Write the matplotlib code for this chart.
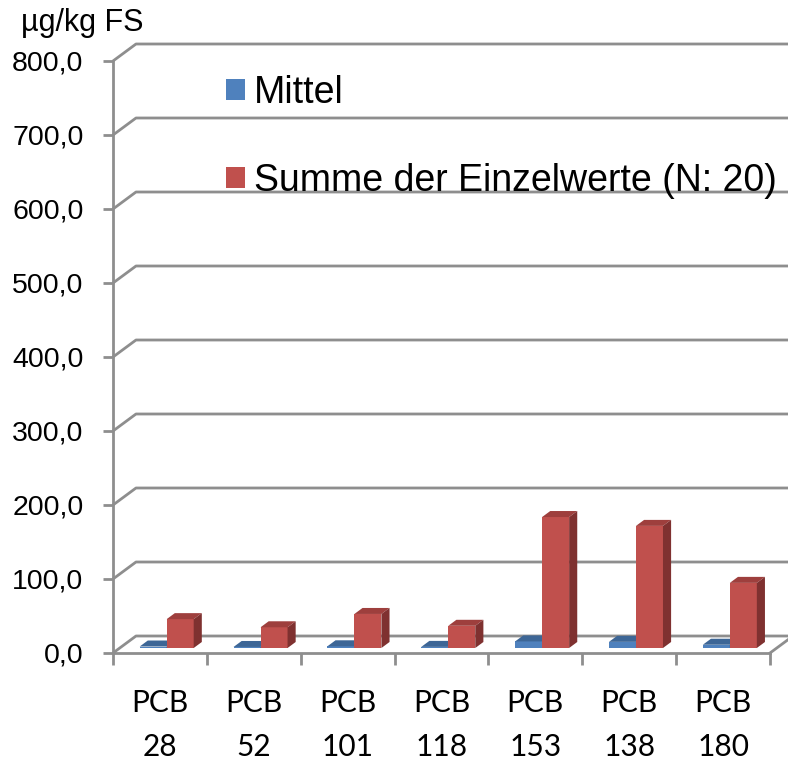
import matplotlib
matplotlib.use('Agg')
import matplotlib.pyplot as plt
from matplotlib.patches import Polygon, Patch

categories = ['PCB\n28', 'PCB\n52', 'PCB\n101', 'PCB\n118', 'PCB\n153', 'PCB\n138', 'PCB\n180']
mittel = [2.0, 1.4, 2.3, 1.5, 8.9, 8.3, 4.4]
summe = [39, 28, 46, 30, 177, 165, 88]
series_names = ['Mittel', 'Summe der Einzelwerte (N: 20)']
yticks = [0, 100, 200, 300, 400, 500, 600, 700, 800]
ytick_labels = ['0,0', '100,0', '200,0', '300,0', '400,0', '500,0', '600,0', '700,0', '800,0']
unit_label = 'µg/kg FS'

W, H = 788, 762
fig = plt.figure(figsize=(W / 100, H / 100), dpi=100)
X0, X1, Y0, Y1 = 113, 770, 653, 61
ax = fig.add_axes([X0 / W, (H - Y0) / H, (X1 - X0) / W, (Y0 - Y1) / H])
n = len(categories)
ax.set_xlim(0, n)
ax.set_ylim(0, 800)
ax.patch.set_visible(False)

px_x = n / (X1 - X0)
px_y = 800 / (Y0 - Y1)
DX, DY = 23 * px_x, 17 * px_y
d1, d2 = 5 / 17, 11 / 17

grid_c = '#8E8E8E'
lw = 2.0

# back wall gridlines + left wall diagonals
for v in yticks:
    ax.plot([0, DX, n + DX + 1], [v, v + DY, v + DY], color=grid_c, lw=lw,
            clip_on=False, zorder=1, solid_capstyle='butt')
# right floor edge
ax.plot([n, n + DX], [0, DY], color=grid_c, lw=lw, clip_on=False, zorder=1)

for s in ['top', 'right']:
    ax.spines[s].set_visible(False)
for s in ['left', 'bottom']:
    ax.spines[s].set_color(grid_c)
    ax.spines[s].set_linewidth(lw)
ax.spines['left'].set_bounds(0, 800)

ax.set_yticks(yticks, ytick_labels)
ax.tick_params(axis='y', length=7.2, width=lw, color=grid_c, pad=14,
               labelsize=20.5, labelfontfamily='Liberation Sans')
ax.set_xticks(range(n + 1), [''] * (n + 1))
ax.set_xticks([i + 0.5 for i in range(n)], categories, minor=True)
ax.tick_params(axis='x', which='major', length=8.6, width=lw, color=grid_c)
ax.tick_params(axis='x', which='minor', length=0, pad=26, labelsize=21.5)
for t in ax.get_xticklabels(minor=True):
    t.set_fontfamily('Lato')
    t.set_linespacing(1.7)

blue = ('#4F81BD', '#3D6696', '#2F5077')
red = ('#C0504D', '#9E3F3D', '#7F3130')
w = 27 * px_x

def bar3d(x_left, v, cols):
    fx0 = x_left + d1 * DX
    fy0 = d1 * DY
    bx = (d2 - d1) * DX
    by = (d2 - d1) * DY
    # front face
    ax.bar(fx0, v, width=w, bottom=fy0, align='edge', color=cols[0],
           clip_on=False, zorder=3, lw=0)
    # top face
    top = [(fx0, fy0 + v), (fx0 + w, fy0 + v), (fx0 + w + bx, fy0 + v + by), (fx0 + bx, fy0 + v + by)]
    ax.add_patch(Polygon(top, closed=True, fc=cols[1], ec='none', zorder=3, clip_on=False))
    # side face
    side = [(fx0 + w, fy0), (fx0 + w + bx, fy0 + by), (fx0 + w + bx, fy0 + v + by), (fx0 + w, fy0 + v)]
    ax.add_patch(Polygon(side, closed=True, fc=cols[2], ec='none', zorder=3, clip_on=False))

for i in range(n):
    c = i + 0.5
    bar3d(c - w, mittel[i], blue)
    bar3d(c, summe[i], red)

fig.text(21 / W, 1 - 8 / H, unit_label, ha='left', va='top', fontsize=22,
         family='Liberation Sans')

handles = [Patch(fc=blue[0]), Patch(fc=red[0])]
fig.legend(handles, series_names, loc='upper left', bbox_to_anchor=(226 / W, 1 - 75 / H),
           frameon=False, handlelength=0.5, handleheight=0.5, handletextpad=0.25,
           labelspacing=1.38, borderpad=0, borderaxespad=0,
           prop={'family': 'Liberation Sans', 'size': 27})

fig.savefig('out.png', dpi=100)
